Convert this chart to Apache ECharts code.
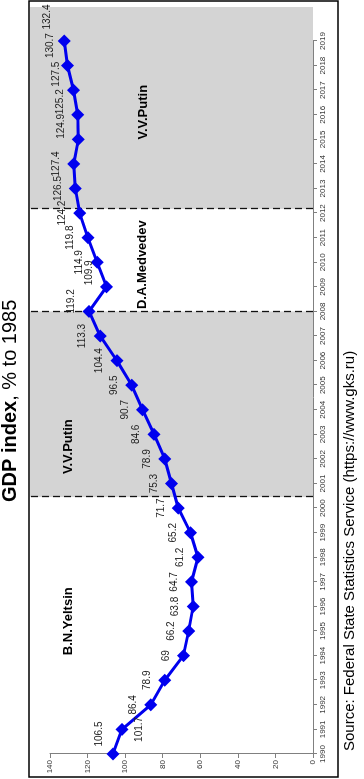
<!DOCTYPE html>
<html>
<head>
<meta charset="utf-8">
<script src="https://cdn.jsdelivr.net/npm/echarts@6/dist/echarts.min.js"></script>
<style>
html, body { margin: 0; padding: 0; background: #fff; overflow: hidden; }
/* chart is drawn landscape and turned a quarter turn counter-clockwise */
#container {
    position: absolute; left: 0; top: 0;
    width: 779px; height: 364px;
    transform-origin: 0 0;
    transform: translate(0, 779px) rotate(-90deg);
}
</style>
</head>
<body>
<div id="container"></div>
<script>
const years = ['1990', '1991', '1992', '1993', '1994', '1995', '1996', '1997', '1998', '1999',
    '2000', '2001', '2002', '2003', '2004', '2005', '2006', '2007', '2008', '2009',
    '2010', '2011', '2012', '2013', '2014', '2015', '2016', '2017', '2018', '2019']
const gdpIndex = [106.5, 101.7, 86.4, 78.9, 69, 66.2, 63.8, 64.7, 61.2, 65.2,
    71.7, 75.3, 78.9, 84.6, 90.7, 96.5, 104.4, 113.3, 119.2, 109.9,
    114.9, 119.8, 124.2, 126.5, 127.4, 124.9, 125.2, 127.5, 130.7, 132.4]
const presidents = ['B.N.Yeltsin', 'V.V.Putin', 'D.A.Medvedev', 'V.V.Putin']
const termChanges = [2000.45, 2008, 2012.17]
const shadedTerms = [[2000.45, 2008], [2012.17, 2020.38]]

const font = "'Liberation Sans', Arial, sans-serif"
const blue = '#0000ee'

// where the president names sit (year, index level)
const namePos = [[1995.4, 130], [2002.5, 130], [2009.9, 91], [2016.1, 90]]

// labels that were moved in the original
const labelTweak = {
    '1990': { offset: [20, 4] },
    '1991': { position: 'bottom' },
    '2008': { offset: [10, 0] },
    '2009': { offset: [14, 0] },
    '2015': { offset: [13, 0] },
    '2016': { offset: [13, 0] },
    '2017': { offset: [16, 0] },
    '2018': { offset: [20, 0] },
    '2019': { offset: [24, 0] }
}

const dom = document.getElementById('container')
const myChart = echarts.init(dom)

const option = {
    animation: false,
    backgroundColor: '#fff',
    textStyle: { fontFamily: font },
    title: [
        {
            text: '{b|GDP index}{n|, % to 1985}',
            left: 277,
            top: 0,
            padding: 0,
            textStyle: {
                rich: {
                    b: { fontSize: 20, fontWeight: 'bold', color: '#000', fontFamily: font },
                    n: { fontSize: 20, fontWeight: 'normal', color: '#000', fontFamily: font }
                }
            }
        },
        {
            text: 'Source: Federal State Statistics Service (https://www.gks.ru)',
            left: 28,
            top: 342,
            padding: 0,
            textStyle: { fontSize: 15, fontWeight: 'normal', color: '#000', fontFamily: font }
        }
    ],
    graphic: [
        {
            type: 'rect',
            shape: { x: 2, y: 29, width: 776, height: 309 },
            style: { fill: null, stroke: '#000', lineWidth: 1.5 },
            z: 10
        }
    ],
    grid: [
        { left: 25, right: 41, top: 50, bottom: 51 },
        { left: 25, right: 7, top: 30, bottom: 51 }
    ],
    xAxis: [
        {
            type: 'category',
            gridIndex: 0,
            data: years,
            boundaryGap: false,
            axisLine: { lineStyle: { color: '#808080', width: 1 } },
            axisTick: { show: true, interval: 0, length: 4, lineStyle: { color: '#808080' } },
            axisLabel: { interval: 0, fontSize: 8, color: '#333', margin: 6 },
            splitLine: { show: false }
        },
        { type: 'value', gridIndex: 1, min: 1990, max: 2020.38, show: false }
    ],
    yAxis: [
        {
            type: 'value',
            gridIndex: 0,
            min: 0,
            max: 140,
            interval: 20,
            axisLine: { show: true, lineStyle: { color: '#808080', width: 1 } },
            axisTick: { show: true, length: 4, lineStyle: { color: '#808080' } },
            axisLabel: { fontSize: 8, color: '#333', margin: 6 },
            splitLine: { show: false }
        },
        { type: 'value', gridIndex: 1, min: 0, max: 150.6, show: false }
    ],
    series: [
        {
            type: 'line',
            xAxisIndex: 1,
            yAxisIndex: 1,
            data: [],
            z: 1,
            markArea: {
                silent: true,
                itemStyle: { color: '#d4d4d4' },
                data: shadedTerms.map(([a, b]) => [{ xAxis: a }, { xAxis: b }])
            },
            markLine: {
                silent: true,
                symbol: 'none',
                label: { show: false },
                lineStyle: { color: '#111', type: [7, 4], width: 1.3 },
                data: termChanges.map(t => ({ xAxis: t }))
            },
            markPoint: {
                silent: true,
                symbolSize: 0,
                label: {
                    show: true,
                    position: 'inside',
                    formatter: '{b}',
                    fontSize: 13,
                    fontWeight: 'bold',
                    color: '#000',
                    fontFamily: font
                },
                data: presidents.map((name, i) => ({ name: name, coord: namePos[i] }))
            }
        },
        {
            name: 'GDP index',
            type: 'line',
            xAxisIndex: 0,
            yAxisIndex: 0,
            z: 5,
            symbol: 'diamond',
            symbolSize: 13,
            lineStyle: { color: blue, width: 3 },
            itemStyle: { color: blue },
            label: {
                show: true,
                position: 'top',
                distance: 6,
                fontSize: 10,
                color: '#222',
                fontFamily: font
            },
            data: gdpIndex.map((v, i) => {
                const t = labelTweak[years[i]]
                return t ? { value: v, label: t } : v
            })
        }
    ]
}

myChart.setOption(option)
</script>
</body>
</html>
